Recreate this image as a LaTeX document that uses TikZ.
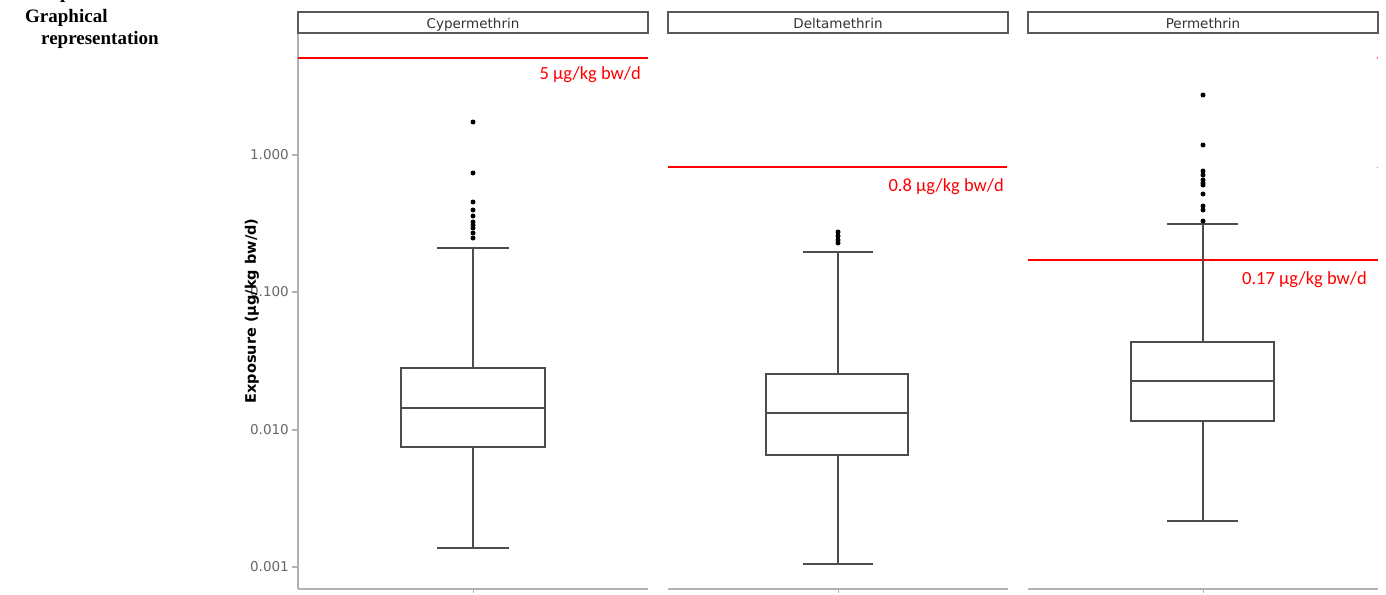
\documentclass[tikz,border=0pt]{standalone}
\usepackage{fontspec}
\setmainfont{Liberation Serif}
\newfontfamily\stripfont{DejaVu Sans}
\newfontfamily\redfont{Carlito}
\tikzset{
  strip/.style={draw=black!65, line width=1.2pt, fill=white, minimum height=21pt, inner sep=0pt, text height=12.5pt, text depth=0pt, font=\stripfont\fontsize{13.5}{15}\selectfont, text=black!80},
  axisline/.style={draw=black!30, line width=1.2pt},
  boxline/.style={draw=black!70, line width=1.3pt},
  thresh/.style={draw=red, line width=1.3pt},
  redlab/.style={text=red, font=\redfont\fontsize{18.5}{20}\selectfont, anchor=east, inner sep=0pt},
  ticklab/.style={text=black!60, font=\stripfont\fontsize{13.5}{15}\selectfont, anchor=east, inner sep=0pt},
  headlab/.style={font=\bfseries\fontsize{19}{21}\selectfont, anchor=west, inner sep=0pt},
  outlier/.style={fill=black}
}
\begin{document}
\begin{tikzpicture}[x=1pt,y=-1pt]
\useasboundingbox (0,0) rectangle (1386,594);
% top-left text (first line cut by the top edge, as in the source)
\node[headlab, anchor=base west] (exp) at (42,-1) {exposure};
\node[headlab] (graph) at (25,18) {Graphical};
\node[headlab] (repr) at (41,40) {representation};

% strips
\node[strip, minimum width=350pt] (s1) at (473,22.5) {Cypermethrin};
\node[strip, minimum width=340pt] (s2) at (838,22.5) {Deltamethrin};
\node[strip, minimum width=350pt] (s3) at (1203,22.5) {Permethrin};

% y axis
\draw[axisline] (298,34) -- (298,589);
\foreach \yy/\lab in {155/1.000, 292/0.100, 430/0.010, 567/0.001}{
  \draw[axisline] (292,\yy) -- (298,\yy);
  \node[ticklab] at (289,\yy) {\lab};
}
\node[rotate=90, font=\stripfont\bfseries\fontsize{14.5}{16}\selectfont] (ytitle) at (252,311) {Exposure (µg/kg bw/d)};

% bottom axes
\draw[axisline] (298,589) -- (648,589);
\draw[axisline] (668,589) -- (1008,589);
\draw[axisline] (1028,589) -- (1378,589);
\foreach \xx in {473,838,1203}{\draw[axisline, line width=0.8pt] (\xx,589) -- (\xx,593);}

% thresholds
\draw[thresh] (298,58) -- (648,58);
\node[redlab] (t1) at (641,75) {5 µg/kg bw/d};
\draw[thresh] (668,167) -- (1007,167);
\node[redlab] (t2) at (1004,187) {0.8 µg/kg bw/d};
\draw[thresh] (1028,260) -- (1378,260);
\node[redlab] (t3) at (1367,280) {0.17 µg/kg bw/d};
\fill[red!60] (1376.5,57.5) rectangle (1378,59);
\fill[red!60] (1376.5,166.5) rectangle (1378,168);

% Cypermethrin box
\draw[boxline] (401,368) rectangle (545,447);
\draw[boxline] (401,408) -- (545,408);
\draw[boxline] (473,368) -- (473,248);
\draw[boxline] (437,248) -- (509,248);
\draw[boxline] (473,447) -- (473,548);
\draw[boxline] (437,548) -- (509,548);
\foreach \yy in {122,173,202,210,216,222,225,228,233,238}{\fill[outlier] (473,\yy) circle (2.5pt);}

% Deltamethrin box
\draw[boxline] (766,374) rectangle (908,455);
\draw[boxline] (766,413) -- (908,413);
\draw[boxline] (838,374) -- (838,252);
\draw[boxline] (803,252) -- (873,252);
\draw[boxline] (838,455) -- (838,564);
\draw[boxline] (803,564) -- (873,564);
\foreach \yy in {232,236,240,243}{\fill[outlier] (838,\yy) circle (2.5pt);}

% Permethrin box
\draw[boxline] (1131,342) rectangle (1274,421);
\draw[boxline] (1131,381) -- (1274,381);
\draw[boxline] (1203,342) -- (1203,224);
\draw[boxline] (1167,224) -- (1238,224);
\draw[boxline] (1203,421) -- (1203,521);
\draw[boxline] (1167,521) -- (1238,521);
\foreach \yy in {95,145,171,175,180,183,185,194,206,210,221}{\fill[outlier] (1203,\yy) circle (2.5pt);}
\end{tikzpicture}
\end{document}
